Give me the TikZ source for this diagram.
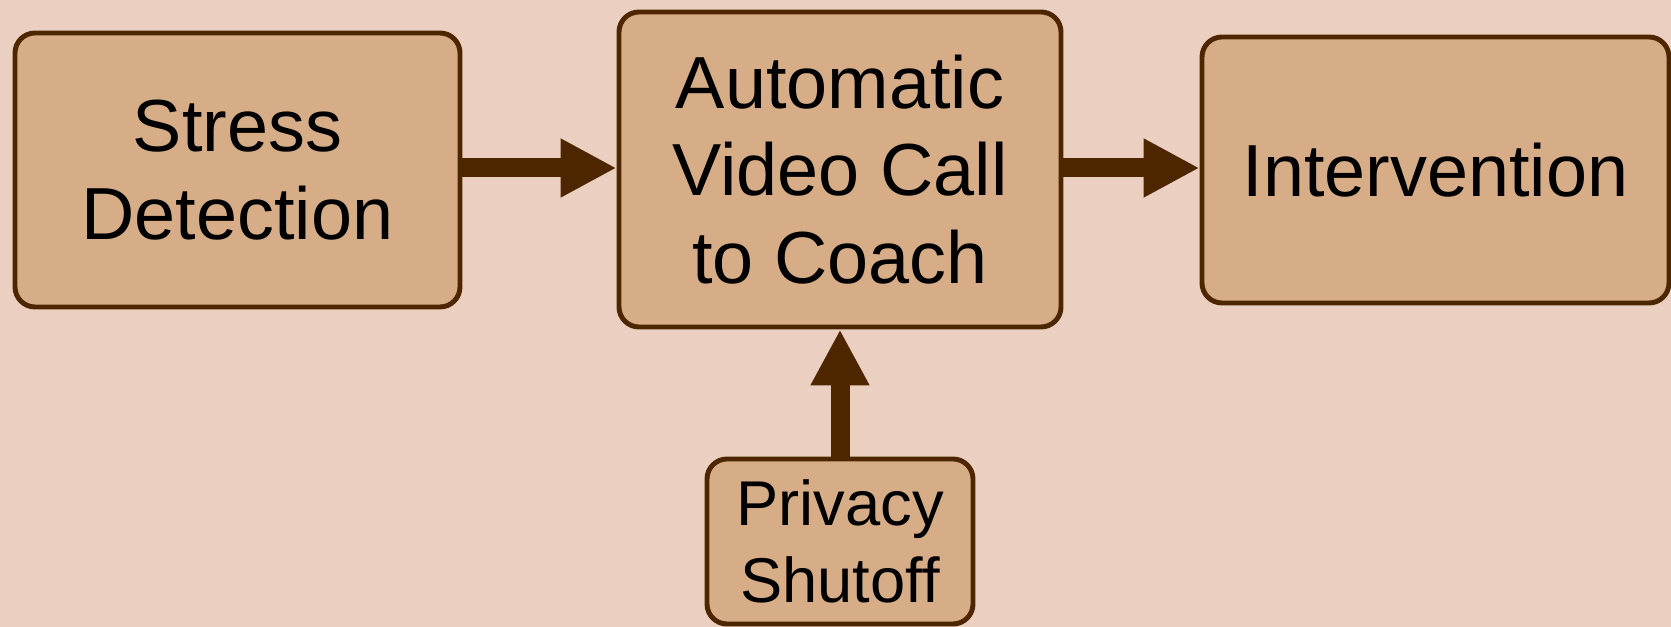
\documentclass[tikz,border=0pt]{standalone}
\usepackage{fontspec}
\setmainfont{Liberation Sans}
\usetikzlibrary{arrows.meta,positioning}
\definecolor{bgpink}{HTML}{EBD0C2}
\definecolor{boxtan}{HTML}{D6AD87}
\definecolor{darkbrown}{HTML}{4D2600}
\tikzset{
        blocknode/.style={align=center,inner sep=0pt,rectangle,rounded corners=0.2cm,draw=darkbrown,fill=boxtan,line width=1.4pt},
        % Large blocks
        node_block/.style={blocknode,font=\fontsize{21}{25}\selectfont},
        % Small block
        node_small/.style={blocknode,font=\fontsize{18}{22}\selectfont},
        % Thick arrows
        arrow_thick/.style={draw=darkbrown,line width=0.19cm,-{Triangle[length=0.56cm,width=0.55cm]}}
}
\begin{document}
\begin{tikzpicture}
            \useasboundingbox[fill=bgpink] (0,0) rectangle (16.71,6.27);
            \node[node_block, minimum width=4.45cm, minimum height=2.74cm] (stress) at (2.375,4.57) {Stress\\Detection};
            \node[node_block, minimum width=4.42cm, minimum height=3.15cm] (call) at (8.40,4.575) {Automatic\\Video Call\\to Coach};
            \node[node_block, minimum width=4.67cm, minimum height=2.66cm] (intervention) at (14.355,4.57) {Intervention};
            \node[node_small, minimum width=2.66cm, minimum height=1.65cm] (privacy) at (8.40,0.855) {Privacy\\Shutoff};
            \draw[arrow_thick] (stress.east |- 0,4.59) -- (call.west |- 0,4.59);
            \draw[arrow_thick] (call.east |- 0,4.59) -- (intervention.west |- 0,4.59);
            \draw[arrow_thick] (privacy) -- (call);
\end{tikzpicture}
\end{document}
